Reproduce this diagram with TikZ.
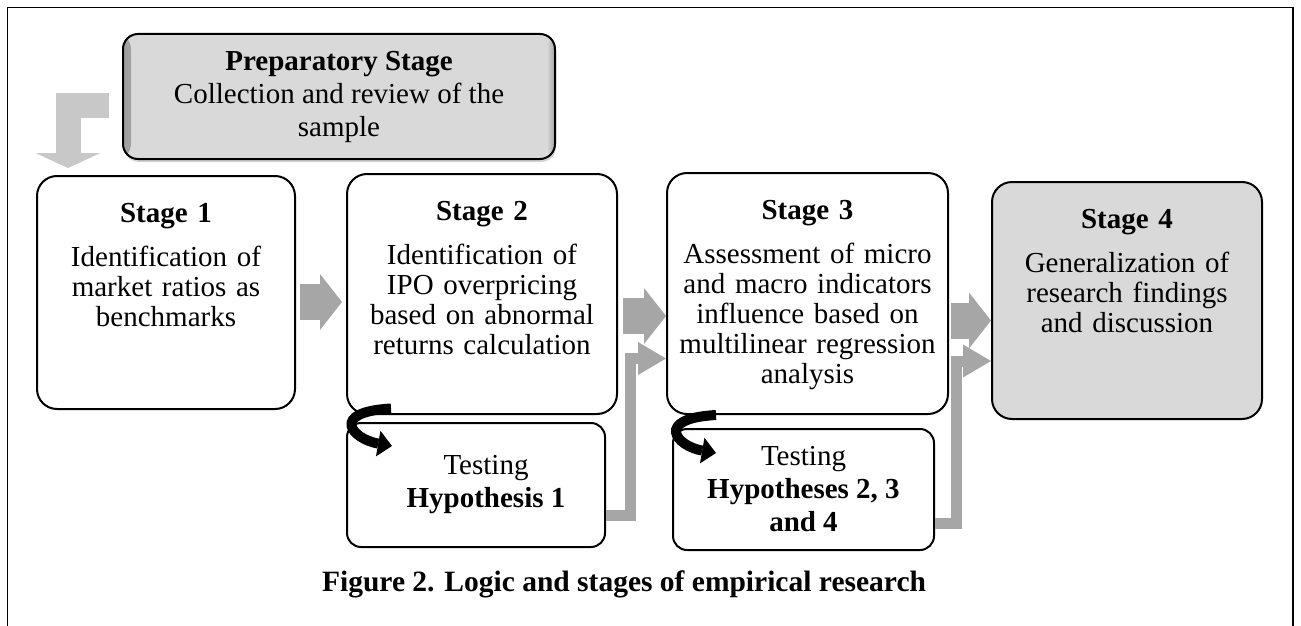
\documentclass[tikz,border=0pt]{standalone}
\usepackage{fontspec}
\setmainfont{Liberation Serif}
\usetikzlibrary{arrows.meta, shadows}
\definecolor{boxgray}{RGB}{217,217,217}
\definecolor{edgegray}{RGB}{160,160,160}
\definecolor{arrowgray}{RGB}{166,166,166}
\definecolor{lightarrow}{RGB}{200,200,200}
\tikzset{
  stagebox/.style={draw, line width=2pt, rounded corners=20pt, anchor=north, align=center,
    inner xsep=5pt, inner ysep=10pt, text height=36pt, font=\fontsize{29}{30}\selectfont},
  testbox/.style={draw, line width=2pt, rounded corners=14pt, align=center, inner sep=0pt,
    font=\fontsize{29}{33}\selectfont},
  prepbox/.style={draw, line width=2pt, rounded corners=15pt, fill=boxgray, align=center,
    minimum width=432pt, minimum height=125pt, font=\fontsize{29}{33}\selectfont,
    drop shadow={shadow xshift=1pt, shadow yshift=-3pt, opacity=0.35},
    path picture={
      \shade[left color=edgegray, right color=boxgray] (path picture bounding box.south west)
        rectangle ([xshift=8pt]path picture bounding box.north west);
      \shade[left color=boxgray, right color=edgegray] ([xshift=-8pt]path picture bounding box.south east)
        rectangle (path picture bounding box.north east);
    }},
  blockarrow/.style={arrowgray, line width=36pt, -{Triangle[width=56pt,length=22pt,line width=0pt]}},
  elbowarrow/.style={arrowgray, line width=11pt, -{Triangle[width=33pt,length=28pt,line width=0pt]}},
  preparrow/.style={lightarrow, line width=25pt, -{Triangle[width=65pt,length=15pt,line width=0pt]}},
  turnarrow/.style={black, line width=10pt, -{Triangle[width=26pt,length=14pt,line width=0pt]}},
}
\begin{document}
\begin{tikzpicture}[x=1pt, y=-1pt]
\useasboundingbox (0,0) rectangle (1301,626);
% Frame
    \draw[line width=1.5pt] (7.5,626) -- (7.5,7.5) -- (1293,7.5) -- (1293,626);
% Preparatory stage
    \node[prepbox] (prep) at (339,96.5) {\textbf{Preparatory Stage}\\Collection and review of the\\sample};
% Stages
    \node[stagebox, text width=248pt, text depth=177pt] (s1) at (166,175)
        {\textbf{Stage 1}\\[14pt]Identification of\\market ratios as\\benchmarks};
    \node[stagebox, text width=260pt, text depth=184pt] (s2) at (482,173)
        {\textbf{Stage 2}\\[14pt]Identification of\\IPO overpricing\\based on abnormal\\returns calculation};
    \node[stagebox, text width=271pt, text depth=185pt] (s3) at (807.5,172)
        {\textbf{Stage 3}\\[14pt]Assessment of micro\\and macro indicators\\influence based on\\multilinear regression\\analysis};
    \node[stagebox, fill=boxgray, text width=260pt, text depth=181pt] (s4) at (1127,181)
        {\textbf{Stage 4}\\[14pt]Generalization of\\research findings\\and discussion};
% Hypotheses
    \node[testbox, minimum width=258pt, minimum height=124pt] (h1) at (476,485)
        {\hspace*{20pt}Testing\\\hspace*{20pt}\textbf{Hypothesis 1}};
    \node[testbox, minimum width=261pt, minimum height=121pt] (h2) at (803.5,489.5)
        {Testing\\\textbf{Hypotheses 2, 3}\\\textbf{and 4}};
% Caption
    \node[font=\fontsize{29.5}{33}\selectfont\bfseries, anchor=base] (caption) at (624,591)
        {Figure 2. Logic and stages of empirical research};
% Arrows between stages
    \draw[preparrow] ([xshift=-13pt,yshift=-9pt]prep.west) -| ([xshift=32pt,yshift=7pt]s1.north west);
    \coordinate (a1) at ([xshift=4pt,yshift=-9.5pt]s1.east);
    \coordinate (a2) at ([xshift=5pt,yshift=-22pt]s2.east);
    \coordinate (a3) at ([xshift=2pt,yshift=-27pt]s3.east);
    \draw[blockarrow, shorten >=4pt] (a1) -- (a1 -| s2.west);
    \draw[blockarrow] (a2) -- (a2 -| s3.west);
    \draw[blockarrow] (a3) -- (a3 -| s4.west);
% Arrows from hypotheses
    \coordinate (b1) at ([yshift=-30pt]h1.east);
    \coordinate (c1) at ([yshift=-65pt]s3.west);
    \coordinate (b2) at ([yshift=-33.5pt]h2.east);
    \coordinate (c2) at ([yshift=-60.5pt]s4.west);
    \draw[elbowarrow] (b1) -| ([xshift=-36pt]c1) -- (c1);
    \draw[elbowarrow] (b2) -| ([xshift=-35pt]c2) -- (c2);
% Turn arrows
    \draw[turnarrow] ([xshift=45pt,yshift=6.5pt]s2.south west) .. controls +(-62,3.5) and +(-40,-7) .. ([xshift=46pt,yshift=-24pt]h1.north west);
    \draw[turnarrow] ([xshift=50pt]s3.south west) .. controls +(-62,3.5) and +(-40,-7) .. ([xshift=44pt,yshift=-25pt]h2.north west);
\end{tikzpicture}
\end{document}
